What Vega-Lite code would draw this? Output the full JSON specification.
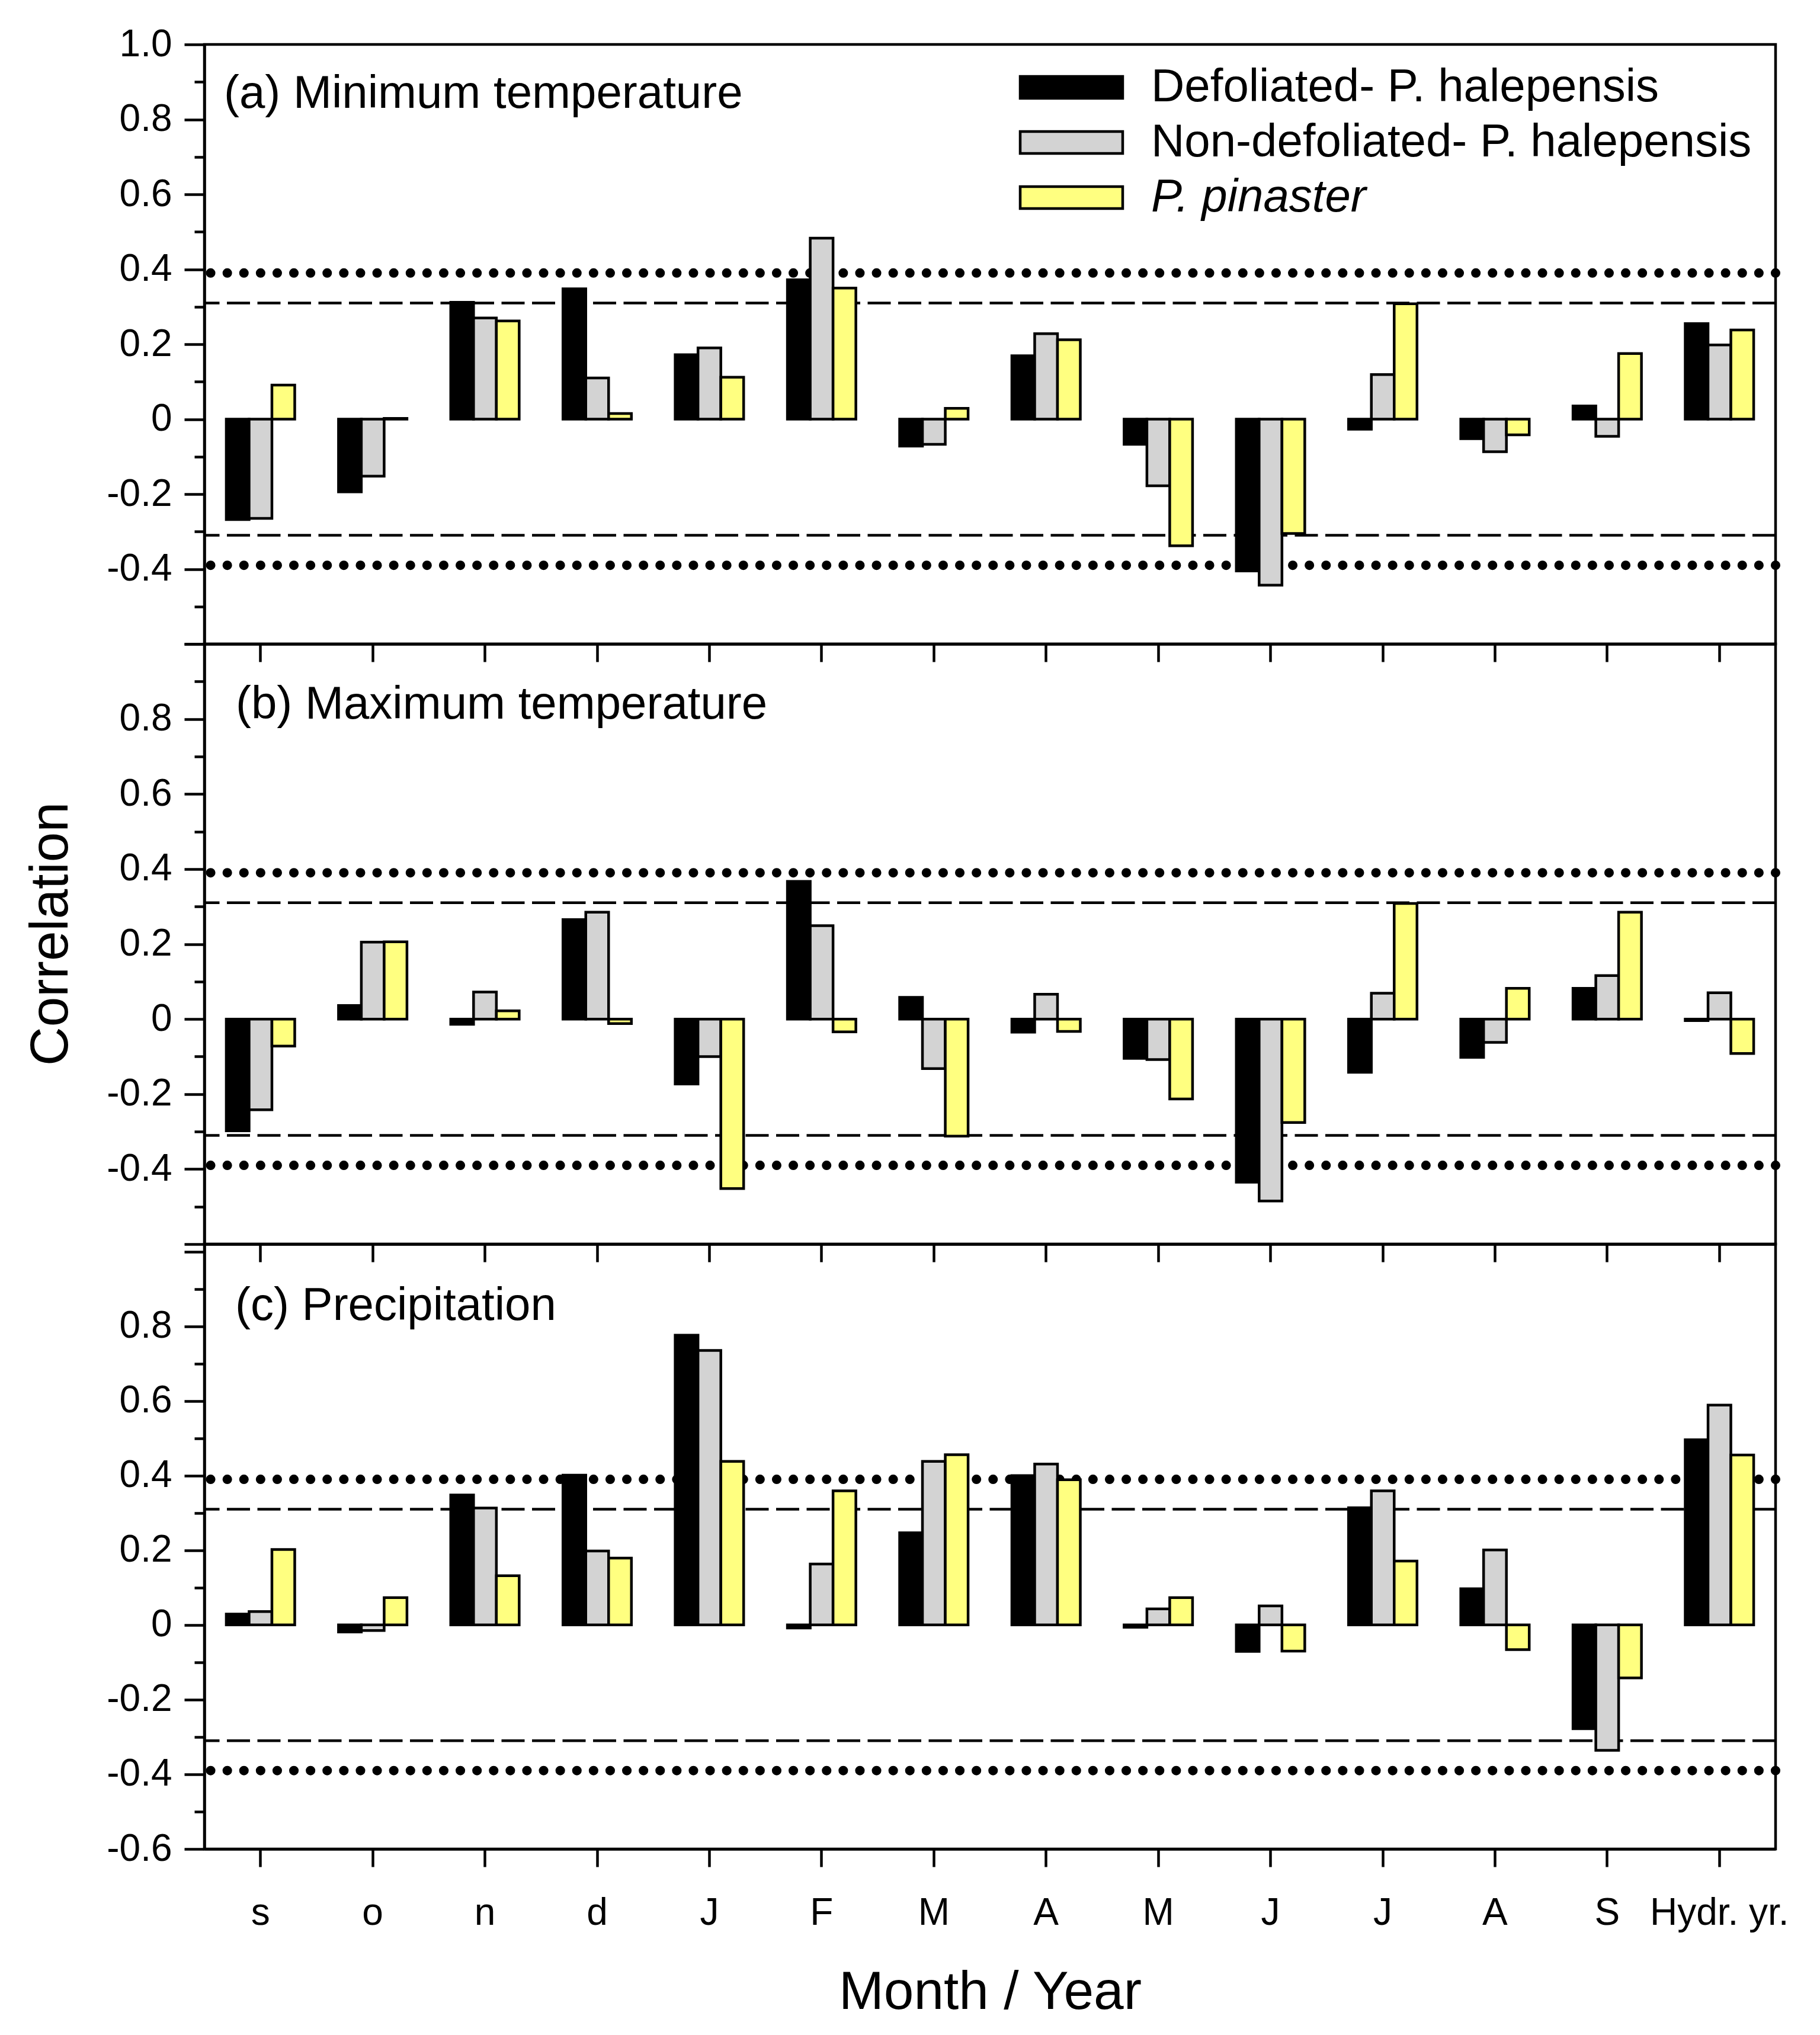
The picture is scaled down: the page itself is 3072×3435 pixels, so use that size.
{
  "$schema": "https://vega.github.io/schema/vega-lite/v6.json",
  "background": "white",
  "padding": {"left": 38, "top": 40, "right": 60, "bottom": 40},
  "config": {
    "font": "Liberation Sans",
    "view": {"stroke": "black", "strokeWidth": 4.5},
    "axis": {
      "grid": false, "domainColor": "black", "domainWidth": 4.5,
      "tickColor": "black", "tickWidth": 4.5,
      "labelColor": "black", "labelFont": "Liberation Sans", "labelFontSize": 64, "labelLimit": 1000,
      "titleFont": "Liberation Sans", "titleFontSize": 91, "titleFontWeight": "normal", "titleColor": "black"
    },
    "title": {"font": "Liberation Sans", "fontSize": 78, "fontWeight": "normal", "color": "black"}
  },
  "datasets": {
    "corr": [
      {"panel": "a", "idx": 1, "series": "Defoliated- P. halepensis", "r": -0.268},
      {"panel": "a", "idx": 1, "series": "Non-defoliated- P. halepensis", "r": -0.265},
      {"panel": "a", "idx": 1, "series": "P. pinaster", "r": 0.091},
      {"panel": "a", "idx": 2, "series": "Defoliated- P. halepensis", "r": -0.194},
      {"panel": "a", "idx": 2, "series": "Non-defoliated- P. halepensis", "r": -0.152},
      {"panel": "a", "idx": 2, "series": "P. pinaster", "r": 0.002},
      {"panel": "a", "idx": 3, "series": "Defoliated- P. halepensis", "r": 0.312},
      {"panel": "a", "idx": 3, "series": "Non-defoliated- P. halepensis", "r": 0.27},
      {"panel": "a", "idx": 3, "series": "P. pinaster", "r": 0.262},
      {"panel": "a", "idx": 4, "series": "Defoliated- P. halepensis", "r": 0.348},
      {"panel": "a", "idx": 4, "series": "Non-defoliated- P. halepensis", "r": 0.11},
      {"panel": "a", "idx": 4, "series": "P. pinaster", "r": 0.015},
      {"panel": "a", "idx": 5, "series": "Defoliated- P. halepensis", "r": 0.172},
      {"panel": "a", "idx": 5, "series": "Non-defoliated- P. halepensis", "r": 0.19},
      {"panel": "a", "idx": 5, "series": "P. pinaster", "r": 0.112},
      {"panel": "a", "idx": 6, "series": "Defoliated- P. halepensis", "r": 0.372},
      {"panel": "a", "idx": 6, "series": "Non-defoliated- P. halepensis", "r": 0.483},
      {"panel": "a", "idx": 6, "series": "P. pinaster", "r": 0.35},
      {"panel": "a", "idx": 7, "series": "Defoliated- P. halepensis", "r": -0.072},
      {"panel": "a", "idx": 7, "series": "Non-defoliated- P. halepensis", "r": -0.067},
      {"panel": "a", "idx": 7, "series": "P. pinaster", "r": 0.029},
      {"panel": "a", "idx": 8, "series": "Defoliated- P. halepensis", "r": 0.169},
      {"panel": "a", "idx": 8, "series": "Non-defoliated- P. halepensis", "r": 0.228},
      {"panel": "a", "idx": 8, "series": "P. pinaster", "r": 0.212},
      {"panel": "a", "idx": 9, "series": "Defoliated- P. halepensis", "r": -0.067},
      {"panel": "a", "idx": 9, "series": "Non-defoliated- P. halepensis", "r": -0.178},
      {"panel": "a", "idx": 9, "series": "P. pinaster", "r": -0.338},
      {"panel": "a", "idx": 10, "series": "Defoliated- P. halepensis", "r": -0.405},
      {"panel": "a", "idx": 10, "series": "Non-defoliated- P. halepensis", "r": -0.443},
      {"panel": "a", "idx": 10, "series": "P. pinaster", "r": -0.305},
      {"panel": "a", "idx": 11, "series": "Defoliated- P. halepensis", "r": -0.027},
      {"panel": "a", "idx": 11, "series": "Non-defoliated- P. halepensis", "r": 0.119},
      {"panel": "a", "idx": 11, "series": "P. pinaster", "r": 0.308},
      {"panel": "a", "idx": 12, "series": "Defoliated- P. halepensis", "r": -0.052},
      {"panel": "a", "idx": 12, "series": "Non-defoliated- P. halepensis", "r": -0.087},
      {"panel": "a", "idx": 12, "series": "P. pinaster", "r": -0.042},
      {"panel": "a", "idx": 13, "series": "Defoliated- P. halepensis", "r": 0.035},
      {"panel": "a", "idx": 13, "series": "Non-defoliated- P. halepensis", "r": -0.046},
      {"panel": "a", "idx": 13, "series": "P. pinaster", "r": 0.175},
      {"panel": "a", "idx": 14, "series": "Defoliated- P. halepensis", "r": 0.255},
      {"panel": "a", "idx": 14, "series": "Non-defoliated- P. halepensis", "r": 0.198},
      {"panel": "a", "idx": 14, "series": "P. pinaster", "r": 0.238},

      {"panel": "b", "idx": 1, "series": "Defoliated- P. halepensis", "r": -0.298},
      {"panel": "b", "idx": 1, "series": "Non-defoliated- P. halepensis", "r": -0.242},
      {"panel": "b", "idx": 1, "series": "P. pinaster", "r": -0.072},
      {"panel": "b", "idx": 2, "series": "Defoliated- P. halepensis", "r": 0.036},
      {"panel": "b", "idx": 2, "series": "Non-defoliated- P. halepensis", "r": 0.205},
      {"panel": "b", "idx": 2, "series": "P. pinaster", "r": 0.206},
      {"panel": "b", "idx": 3, "series": "Defoliated- P. halepensis", "r": -0.014},
      {"panel": "b", "idx": 3, "series": "Non-defoliated- P. halepensis", "r": 0.072},
      {"panel": "b", "idx": 3, "series": "P. pinaster", "r": 0.022},
      {"panel": "b", "idx": 4, "series": "Defoliated- P. halepensis", "r": 0.265},
      {"panel": "b", "idx": 4, "series": "Non-defoliated- P. halepensis", "r": 0.285},
      {"panel": "b", "idx": 4, "series": "P. pinaster", "r": -0.012},
      {"panel": "b", "idx": 5, "series": "Defoliated- P. halepensis", "r": -0.173},
      {"panel": "b", "idx": 5, "series": "Non-defoliated- P. halepensis", "r": -0.1},
      {"panel": "b", "idx": 5, "series": "P. pinaster", "r": -0.452},
      {"panel": "b", "idx": 6, "series": "Defoliated- P. halepensis", "r": 0.367},
      {"panel": "b", "idx": 6, "series": "Non-defoliated- P. halepensis", "r": 0.249},
      {"panel": "b", "idx": 6, "series": "P. pinaster", "r": -0.034},
      {"panel": "b", "idx": 7, "series": "Defoliated- P. halepensis", "r": 0.058},
      {"panel": "b", "idx": 7, "series": "Non-defoliated- P. halepensis", "r": -0.132},
      {"panel": "b", "idx": 7, "series": "P. pinaster", "r": -0.312},
      {"panel": "b", "idx": 8, "series": "Defoliated- P. halepensis", "r": -0.035},
      {"panel": "b", "idx": 8, "series": "Non-defoliated- P. halepensis", "r": 0.066},
      {"panel": "b", "idx": 8, "series": "P. pinaster", "r": -0.033},
      {"panel": "b", "idx": 9, "series": "Defoliated- P. halepensis", "r": -0.105},
      {"panel": "b", "idx": 9, "series": "Non-defoliated- P. halepensis", "r": -0.108},
      {"panel": "b", "idx": 9, "series": "P. pinaster", "r": -0.213},
      {"panel": "b", "idx": 10, "series": "Defoliated- P. halepensis", "r": -0.435},
      {"panel": "b", "idx": 10, "series": "Non-defoliated- P. halepensis", "r": -0.485},
      {"panel": "b", "idx": 10, "series": "P. pinaster", "r": -0.276},
      {"panel": "b", "idx": 11, "series": "Defoliated- P. halepensis", "r": -0.142},
      {"panel": "b", "idx": 11, "series": "Non-defoliated- P. halepensis", "r": 0.069},
      {"panel": "b", "idx": 11, "series": "P. pinaster", "r": 0.308},
      {"panel": "b", "idx": 12, "series": "Defoliated- P. halepensis", "r": -0.102},
      {"panel": "b", "idx": 12, "series": "Non-defoliated- P. halepensis", "r": -0.062},
      {"panel": "b", "idx": 12, "series": "P. pinaster", "r": 0.082},
      {"panel": "b", "idx": 13, "series": "Defoliated- P. halepensis", "r": 0.082},
      {"panel": "b", "idx": 13, "series": "Non-defoliated- P. halepensis", "r": 0.116},
      {"panel": "b", "idx": 13, "series": "P. pinaster", "r": 0.285},
      {"panel": "b", "idx": 14, "series": "Defoliated- P. halepensis", "r": -0.004},
      {"panel": "b", "idx": 14, "series": "Non-defoliated- P. halepensis", "r": 0.07},
      {"panel": "b", "idx": 14, "series": "P. pinaster", "r": -0.092},

      {"panel": "c", "idx": 1, "series": "Defoliated- P. halepensis", "r": 0.029},
      {"panel": "c", "idx": 1, "series": "Non-defoliated- P. halepensis", "r": 0.036},
      {"panel": "c", "idx": 1, "series": "P. pinaster", "r": 0.202},
      {"panel": "c", "idx": 2, "series": "Defoliated- P. halepensis", "r": -0.019},
      {"panel": "c", "idx": 2, "series": "Non-defoliated- P. halepensis", "r": -0.015},
      {"panel": "c", "idx": 2, "series": "P. pinaster", "r": 0.073},
      {"panel": "c", "idx": 3, "series": "Defoliated- P. halepensis", "r": 0.348},
      {"panel": "c", "idx": 3, "series": "Non-defoliated- P. halepensis", "r": 0.313},
      {"panel": "c", "idx": 3, "series": "P. pinaster", "r": 0.132},
      {"panel": "c", "idx": 4, "series": "Defoliated- P. halepensis", "r": 0.401},
      {"panel": "c", "idx": 4, "series": "Non-defoliated- P. halepensis", "r": 0.198},
      {"panel": "c", "idx": 4, "series": "P. pinaster", "r": 0.179},
      {"panel": "c", "idx": 5, "series": "Defoliated- P. halepensis", "r": 0.776},
      {"panel": "c", "idx": 5, "series": "Non-defoliated- P. halepensis", "r": 0.735},
      {"panel": "c", "idx": 5, "series": "P. pinaster", "r": 0.438},
      {"panel": "c", "idx": 6, "series": "Defoliated- P. halepensis", "r": -0.008},
      {"panel": "c", "idx": 6, "series": "Non-defoliated- P. halepensis", "r": 0.163},
      {"panel": "c", "idx": 6, "series": "P. pinaster", "r": 0.359},
      {"panel": "c", "idx": 7, "series": "Defoliated- P. halepensis", "r": 0.247},
      {"panel": "c", "idx": 7, "series": "Non-defoliated- P. halepensis", "r": 0.438},
      {"panel": "c", "idx": 7, "series": "P. pinaster", "r": 0.456},
      {"panel": "c", "idx": 8, "series": "Defoliated- P. halepensis", "r": 0.4},
      {"panel": "c", "idx": 8, "series": "Non-defoliated- P. halepensis", "r": 0.431},
      {"panel": "c", "idx": 8, "series": "P. pinaster", "r": 0.389},
      {"panel": "c", "idx": 9, "series": "Defoliated- P. halepensis", "r": -0.006},
      {"panel": "c", "idx": 9, "series": "Non-defoliated- P. halepensis", "r": 0.043},
      {"panel": "c", "idx": 9, "series": "P. pinaster", "r": 0.073},
      {"panel": "c", "idx": 10, "series": "Defoliated- P. halepensis", "r": -0.071},
      {"panel": "c", "idx": 10, "series": "Non-defoliated- P. halepensis", "r": 0.051},
      {"panel": "c", "idx": 10, "series": "P. pinaster", "r": -0.07},
      {"panel": "c", "idx": 11, "series": "Defoliated- P. halepensis", "r": 0.314},
      {"panel": "c", "idx": 11, "series": "Non-defoliated- P. halepensis", "r": 0.359},
      {"panel": "c", "idx": 11, "series": "P. pinaster", "r": 0.171},
      {"panel": "c", "idx": 12, "series": "Defoliated- P. halepensis", "r": 0.097},
      {"panel": "c", "idx": 12, "series": "Non-defoliated- P. halepensis", "r": 0.201},
      {"panel": "c", "idx": 12, "series": "P. pinaster", "r": -0.066},
      {"panel": "c", "idx": 13, "series": "Defoliated- P. halepensis", "r": -0.278},
      {"panel": "c", "idx": 13, "series": "Non-defoliated- P. halepensis", "r": -0.336},
      {"panel": "c", "idx": 13, "series": "P. pinaster", "r": -0.142},
      {"panel": "c", "idx": 14, "series": "Defoliated- P. halepensis", "r": 0.496},
      {"panel": "c", "idx": 14, "series": "Non-defoliated- P. halepensis", "r": 0.589},
      {"panel": "c", "idx": 14, "series": "P. pinaster", "r": 0.455}
    ],
    "thr": [
      {"v": 0.31, "kind": "dash"},
      {"v": -0.31, "kind": "dash"},
      {"v": 0.39, "kind": "dot"},
      {"v": -0.39, "kind": "dot"}
    ]
  },
  "spacing": 0,
  "bounds": "flush",
  "resolve": {"legend": {"color": "independent"}},
  "vconcat": [
    {
      "width": 2652, "height": 1012,
      "title": {"text": "(a) Minimum temperature", "anchor": "start", "frame": "group", "orient": "top", "offset": 0, "dx": 33, "dy": 217, "baseline": "alphabetic"},
      "layer": [
        {"data": {"name": "thr"}, "transform": [{"filter": "datum.kind == 'dash'"}],
         "mark": {"type": "rule", "strokeDash": [39, 12.5], "strokeWidth": 4.5, "color": "black"},
         "encoding": {"y": {"field": "v", "type": "quantitative"}}},
        {"data": {"name": "thr"}, "transform": [{"filter": "datum.kind == 'dot'"}],
         "mark": {"type": "rule", "strokeDash": [0.1, 28], "strokeCap": "round", "strokeWidth": 16, "color": "black"},
         "encoding": {"y": {"field": "v", "type": "quantitative"}}},
        {"data": {"name": "corr"}, "transform": [{"filter": "datum.panel == 'a'"}],
         "mark": {"type": "bar", "stroke": "black", "strokeWidth": 4.5},
         "encoding": {
           "x": {"field": "idx", "type": "ordinal", "scale": {"paddingInner": 0.39, "paddingOuter": 0.195},
                 "axis": {"title": null, "labels": false, "tickSize": 30}},
           "xOffset": {"field": "series", "type": "nominal", "sort": ["Defoliated- P. halepensis", "Non-defoliated- P. halepensis", "P. pinaster"]},
           "y": {"field": "r", "type": "quantitative", "scale": {"domain": [-0.6, 1.0], "nice": false, "zero": false},
                 "axis": {"title": null, "values": [-0.6, -0.5, -0.4, -0.3, -0.2, -0.1, 0, 0.1, 0.2, 0.3, 0.4, 0.5, 0.6, 0.7, 0.8, 0.9, 1.0],
                          "labelExpr": "(abs(round(datum.value*10)) % 2 == 1 || datum.value < -0.55) ? '' : (datum.value == 0 ? '0' : (datum.value < 0 ? '-' : '') + format(abs(datum.value), '.1f'))",
                          "tickSize": {"condition": {"test": "abs(round(datum.value*10)) % 2 == 0", "value": 34}, "value": 17},
                          "labelPadding": 21}},
           "color": {"field": "series", "type": "nominal",
                     "scale": {"domain": ["Defoliated- P. halepensis", "Non-defoliated- P. halepensis", "P. pinaster"], "range": ["#000000", "#d3d3d3", "#ffff80"]},
                     "legend": {"title": null, "orient": "none", "legendX": 1418, "legendY": 27,
                                "symbolType": "M-2,-0.428H2V0.428H-2Z", "symbolSize": 7482,
                                "symbolStrokeColor": "black", "symbolStrokeWidth": 4.5, "symbolOpacity": 1,
                                "labelFont": "Liberation Sans", "labelFontSize": 78, "labelColor": "black",
                                "labelOffset": 89, "rowPadding": 8, "labelLimit": 3000,
                                "encode": {"labels": {"update": {"fontStyle": {"signal": "datum.label == 'P. pinaster' ? 'italic' : 'normal'"}}}}}}
         }},
        {"mark": {"type": "rule", "strokeWidth": 4.5, "color": "black"}, "encoding": {"y": {"datum": 0}}}
      ]
    },
    {
      "width": 2652, "height": 1013,
      "title": {"text": "(b) Maximum temperature", "anchor": "start", "frame": "group", "orient": "top", "offset": 0, "dx": 53, "dy": 206, "baseline": "alphabetic"},
      "layer": [
        {"data": {"name": "thr"}, "transform": [{"filter": "datum.kind == 'dash'"}],
         "mark": {"type": "rule", "strokeDash": [39, 12.5], "strokeWidth": 4.5, "color": "black"},
         "encoding": {"y": {"field": "v", "type": "quantitative"}}},
        {"data": {"name": "thr"}, "transform": [{"filter": "datum.kind == 'dot'"}],
         "mark": {"type": "rule", "strokeDash": [0.1, 28], "strokeCap": "round", "strokeWidth": 16, "color": "black"},
         "encoding": {"y": {"field": "v", "type": "quantitative"}}},
        {"data": {"name": "corr"}, "transform": [{"filter": "datum.panel == 'b'"}],
         "mark": {"type": "bar", "stroke": "black", "strokeWidth": 4.5},
         "encoding": {
           "x": {"field": "idx", "type": "ordinal", "scale": {"paddingInner": 0.39, "paddingOuter": 0.195},
                 "axis": {"title": null, "labels": false, "tickSize": 30}},
           "xOffset": {"field": "series", "type": "nominal", "sort": ["Defoliated- P. halepensis", "Non-defoliated- P. halepensis", "P. pinaster"]},
           "y": {"field": "r", "type": "quantitative", "scale": {"domain": [-0.6, 1.0], "nice": false, "zero": false},
                 "axis": {"title": "Correlation", "titlePadding": 47, "titleY": 489, "values": [-0.6, -0.5, -0.4, -0.3, -0.2, -0.1, 0, 0.1, 0.2, 0.3, 0.4, 0.5, 0.6, 0.7, 0.8, 0.9, 1.0],
                          "labelExpr": "(abs(round(datum.value*10)) % 2 == 1 || datum.value < -0.55 || datum.value > 0.95) ? '' : (datum.value == 0 ? '0' : (datum.value < 0 ? '-' : '') + format(abs(datum.value), '.1f'))",
                          "tickSize": {"condition": {"test": "abs(round(datum.value*10)) % 2 == 0", "value": 34}, "value": 17},
                          "labelPadding": 21}},
           "color": {"field": "series", "type": "nominal",
                     "scale": {"domain": ["Defoliated- P. halepensis", "Non-defoliated- P. halepensis", "P. pinaster"], "range": ["#000000", "#d3d3d3", "#ffff80"]},
                     "legend": null}
         }},
        {"mark": {"type": "rule", "strokeWidth": 4.5, "color": "black"}, "encoding": {"y": {"datum": 0}}}
      ]
    },
    {
      "width": 2652, "height": 1021,
      "title": {"text": "(c) Precipitation", "anchor": "start", "frame": "group", "orient": "top", "offset": 0, "dx": 52, "dy": 206, "baseline": "alphabetic"},
      "layer": [
        {"data": {"name": "thr"}, "transform": [{"filter": "datum.kind == 'dash'"}],
         "mark": {"type": "rule", "strokeDash": [39, 12.5], "strokeWidth": 4.5, "color": "black"},
         "encoding": {"y": {"field": "v", "type": "quantitative"}}},
        {"data": {"name": "thr"}, "transform": [{"filter": "datum.kind == 'dot'"}],
         "mark": {"type": "rule", "strokeDash": [0.1, 28], "strokeCap": "round", "strokeWidth": 16, "color": "black"},
         "encoding": {"y": {"field": "v", "type": "quantitative"}}},
        {"data": {"name": "corr"}, "transform": [{"filter": "datum.panel == 'c'"}],
         "mark": {"type": "bar", "stroke": "black", "strokeWidth": 4.5},
         "encoding": {
           "x": {"field": "idx", "type": "ordinal", "scale": {"paddingInner": 0.39, "paddingOuter": 0.195},
                 "axis": {"title": "Month / Year", "titlePadding": 57, "labelAngle": 0, "labelPadding": 46, "tickSize": 30, "labelLimit": 1000,
                          "labelExpr": "['s','o','n','d','J','F','M','A','M','J','J','A','S','Hydr. yr.'][datum.value - 1]"}},
           "xOffset": {"field": "series", "type": "nominal", "sort": ["Defoliated- P. halepensis", "Non-defoliated- P. halepensis", "P. pinaster"]},
           "y": {"field": "r", "type": "quantitative", "scale": {"domain": [-0.6, 1.02], "nice": false, "zero": false},
                 "axis": {"title": null, "values": [-0.6, -0.5, -0.4, -0.3, -0.2, -0.1, 0, 0.1, 0.2, 0.3, 0.4, 0.5, 0.6, 0.7, 0.8, 0.9, 1.0],
                          "labelExpr": "(abs(round(datum.value*10)) % 2 == 1 || datum.value > 0.95) ? '' : (datum.value == 0 ? '0' : (datum.value < 0 ? '-' : '') + format(abs(datum.value), '.1f'))",
                          "tickSize": {"condition": {"test": "abs(round(datum.value*10)) % 2 == 0", "value": 34}, "value": 17},
                          "labelPadding": 21}},
           "color": {"field": "series", "type": "nominal",
                     "scale": {"domain": ["Defoliated- P. halepensis", "Non-defoliated- P. halepensis", "P. pinaster"], "range": ["#000000", "#d3d3d3", "#ffff80"]},
                     "legend": null}
         }},
        {"mark": {"type": "rule", "strokeWidth": 4.5, "color": "black"}, "encoding": {"y": {"datum": 0}}}
      ]
    }
  ]
}
